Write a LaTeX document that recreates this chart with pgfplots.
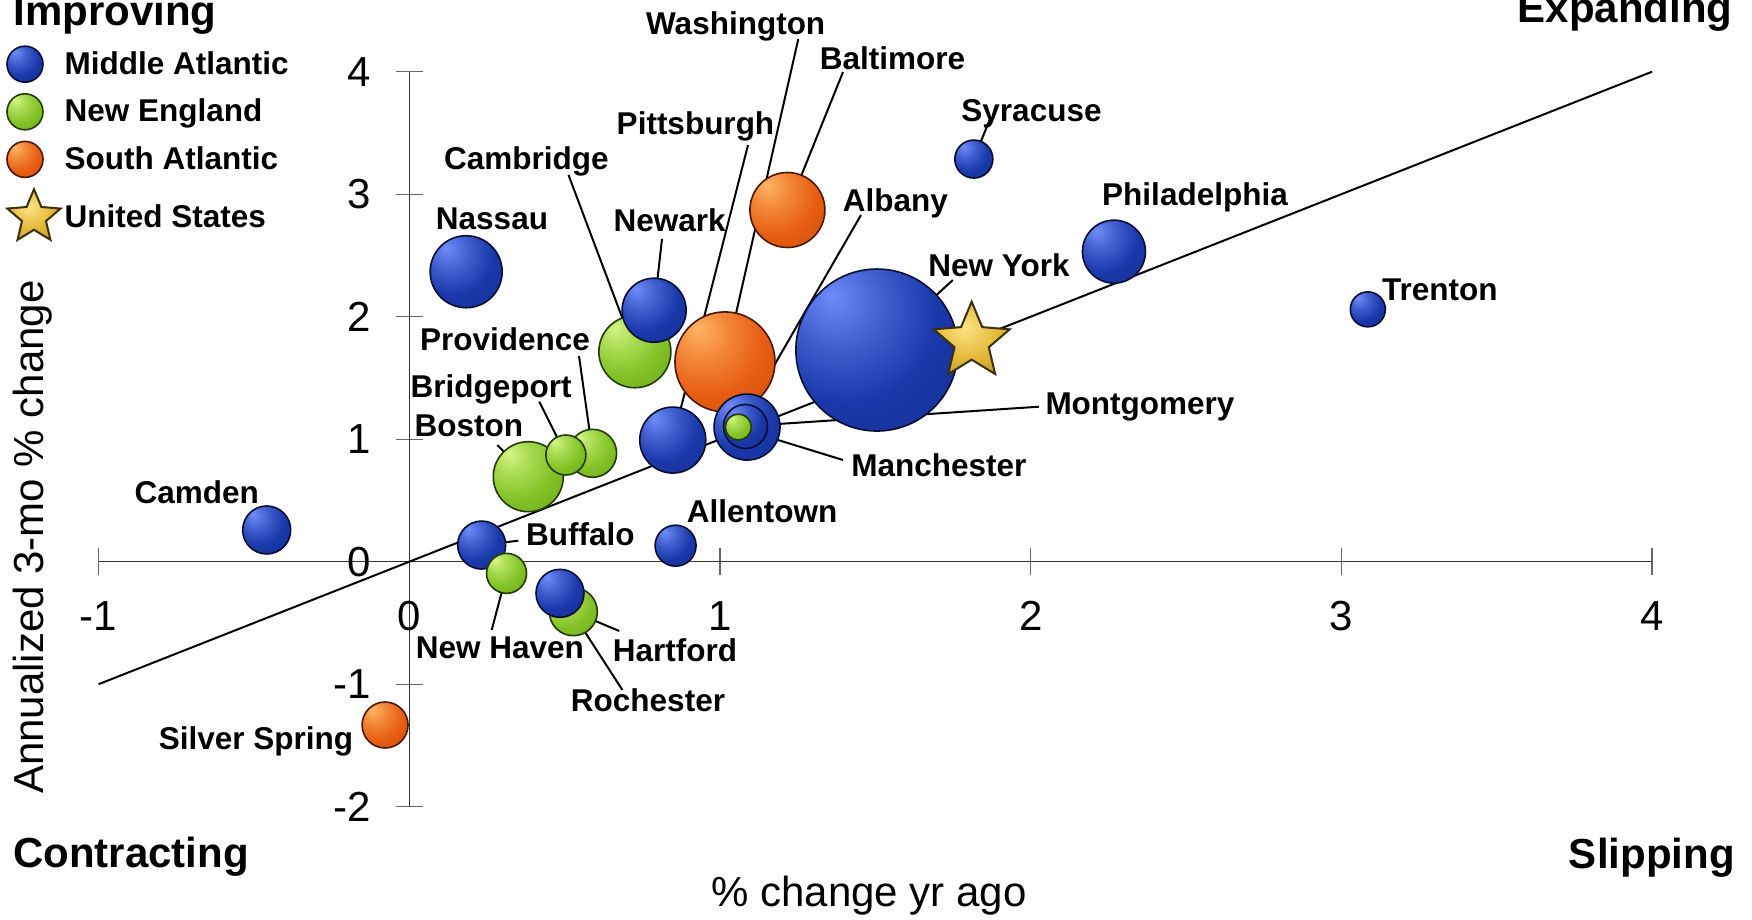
\documentclass[border=0pt]{standalone}
\usepackage{fontspec}
\setmainfont{Liberation Sans}
\usepackage{pgfplots}
\usepackage{pgfplotstable}
\pgfplotsset{compat=1.18}
\usetikzlibrary{plotmarks}

\definecolor{bHi}{RGB}{110,140,250}
\definecolor{bBody}{RGB}{26,56,170}
\definecolor{bDark}{RGB}{10,24,85}
\definecolor{gHi}{RGB}{210,245,130}
\definecolor{gBody}{RGB}{130,194,38}
\definecolor{gDark}{RGB}{58,100,10}
\definecolor{oHi}{RGB}{255,180,100}
\definecolor{oBody}{RGB}{232,94,18}
\definecolor{oDark}{RGB}{125,38,4}
\definecolor{sHi}{RGB}{252,228,130}
\definecolor{sBody}{RGB}{228,186,60}
\definecolor{sDark}{RGB}{160,120,25}
\definecolor{starEdge}{RGB}{60,48,12}

\pgfdeclareradialshading{bblue}{\pgfpoint{-14bp}{17bp}}{color(0bp)=(bHi); color(14bp)=(bHi!45!bBody); color(28bp)=(bBody); color(48bp)=(bBody!70!bDark); color(64bp)=(bDark); color(85bp)=(bDark)}
\pgfdeclareradialshading{bgreen}{\pgfpoint{-14bp}{17bp}}{color(0bp)=(gHi); color(14bp)=(gHi!45!gBody); color(28bp)=(gBody); color(48bp)=(gBody!70!gDark); color(64bp)=(gDark); color(85bp)=(gDark)}
\pgfdeclareradialshading{borange}{\pgfpoint{-14bp}{17bp}}{color(0bp)=(oHi); color(14bp)=(oHi!45!oBody); color(28bp)=(oBody); color(48bp)=(oBody!70!oDark); color(64bp)=(oDark); color(85bp)=(oDark)}
\pgfdeclareradialshading{sgold}{\pgfpoint{-5bp}{8bp}}{color(0bp)=(sHi); color(20bp)=(sBody); color(50bp)=(sDark); color(80bp)=(sDark)}

\pgfdeclareplotmark{bblue}{\pgfpathcircle{\pgfpointorigin}{\pgfplotmarksize}\pgfshadepath{bblue}{0}%
  \pgfsetstrokecolor{bDark!60!black}\pgfsetlinewidth{0.8pt}\pgfusepath{stroke}}
\pgfdeclareplotmark{bgreen}{\pgfpathcircle{\pgfpointorigin}{\pgfplotmarksize}\pgfshadepath{bgreen}{0}%
  \pgfsetstrokecolor{gDark!60!black}\pgfsetlinewidth{0.8pt}\pgfusepath{stroke}}
\pgfdeclareplotmark{borange}{\pgfpathcircle{\pgfpointorigin}{\pgfplotmarksize}\pgfshadepath{borange}{0}%
  \pgfsetstrokecolor{oDark!60!black}\pgfsetlinewidth{0.8pt}\pgfusepath{stroke}}

\pgfdeclareplotmark{gstar}{%
  \pgfpathmoveto{\pgfpointpolar{90}{\pgfplotmarksize}}%
  \pgfpathlineto{\pgfpointpolar{126}{0.45\pgfplotmarksize}}%
  \pgfpathlineto{\pgfpointpolar{162}{\pgfplotmarksize}}%
  \pgfpathlineto{\pgfpointpolar{198}{0.45\pgfplotmarksize}}%
  \pgfpathlineto{\pgfpointpolar{234}{\pgfplotmarksize}}%
  \pgfpathlineto{\pgfpointpolar{270}{0.45\pgfplotmarksize}}%
  \pgfpathlineto{\pgfpointpolar{306}{\pgfplotmarksize}}%
  \pgfpathlineto{\pgfpointpolar{342}{0.45\pgfplotmarksize}}%
  \pgfpathlineto{\pgfpointpolar{18}{\pgfplotmarksize}}%
  \pgfpathlineto{\pgfpointpolar{54}{0.45\pgfplotmarksize}}%
  \pgfpathclose
  \pgfshadepath{sgold}{0}%
  \pgfsetstrokecolor{starEdge}\pgfsetlinewidth{1pt}%
  \pgfusepath{stroke}%
}

% bubbles, largest first so that smaller ones lie on top
% x = % change yr ago, y = annualized 3-mo % change, r = bubble radius (pt)
% col: ma = Middle Atlantic, ne = New England, sa = South Atlantic
\pgfplotstableread{
x      y      r      col
1.505  1.728  40.5   ma
1.016  1.631  25.0   sa
1.217  2.871  18.75  sa
0.183  2.367  18.0   ma
0.726  1.714  18.0   ne
0.383  0.694  17.5   ne
0.848  0.993  16.5   ma
1.087  1.099  16.5   ma
0.788  2.053  16.0   ma
2.268  2.531  15.75  ma
-0.459 0.259  12.0   ma
0.233  0.136  12.0   ma
0.528  -0.408 12.0   ne
0.485  -0.258 12.0   ma
0.590  0.885  12.0   ne
-0.078 -1.333 11.5   sa
1.082  1.104  11.0   ma
0.857  0.131  10.25  ma
0.313  -0.095 10.0   ne
0.504  0.871  10.0   ne
1.817  3.287  9.5    ma
3.085  2.060  8.75   ma
1.059  1.099  6.5    ne
}\bubbles

\pgfplotsset{bubblelegend/.style={only marks,
  legend image code/.code={\draw[##1] plot coordinates {(0pt,0pt)};}}}

\tikzset{lab/.style={font=\fontsize{15.75}{18}\selectfont\bfseries, inner sep=0pt, anchor=base},
  quad/.style={font=\fontsize{21}{25}\selectfont\bfseries, inner sep=0pt},
  lead/.style={black, line width=1pt}}

\begin{document}
\begin{tikzpicture}
\begin{axis}[
  x=155.35pt, y=61.25pt,
  xmin=-1, xmax=4, ymin=-2, ymax=4,
  axis lines=middle,
  axis line style={-, black!80, line width=0.7pt},
  xtick={-1,0,1,2,3,4}, ytick={-2,-1,0,1,2,3,4},
  tick align=center, major tick length=13.5pt,
  tick style={black!60, line width=0.7pt},
  hide obscured x ticks=false, hide obscured y ticks=false,
  ticklabel style={font=\fontsize{21}{25}\selectfont, inner sep=0pt},
  /pgf/number format/assume math mode=true,
  xticklabel style={anchor=north, yshift=-13pt},
  yticklabel style={anchor=east, xshift=-12.5pt},
  xlabel={\% change yr ago},
  xlabel style={at={(axis description cs:0.4959,-0.13645)}, anchor=base, font=\fontsize{21}{25}\selectfont, inner sep=0pt},
  ylabel={Annualized 3-mo \% change},
  ylabel style={at={(axis description cs:-0.03547,0.36694)}, rotate=90, anchor=base, font=\fontsize{21}{25}\selectfont, inner sep=0pt},
  clip=false,
  legend style={at={(axis cs:-1.2987,4.218)}, anchor=north west, draw=none, fill=none,
    font=\fontsize{15.75}{18}\selectfont\bfseries, row sep=5pt, inner sep=0pt,
    nodes={inner sep=1pt},
    /tikz/every odd column/.append style={column sep=0.5pt}},
  legend cell align=left,
]
\coordinate (BL) at (axis cs:-1.31735,-2.91673);
\coordinate (TR) at (axis cs:4.32154,4.58531);

\addplot[forget plot, black, line width=1pt] coordinates {(-1,-1) (4,4)};

\addplot[forget plot, scatter, only marks, mark=bblue,
  point meta=explicit symbolic,
  scatter/classes={ma={mark=bblue}, ne={mark=bgreen}, sa={mark=borange}},
  visualization depends on={\thisrow{r} \as \pms},
  scatter/@pre marker code/.append style={/tikz/mark size=\pms},
] table[x=x, y=y, meta=col] {\bubbles};

\addplot[forget plot, only marks, mark=gstar, mark size=20pt] coordinates {(1.810,1.796)};

\addlegendimage{bubblelegend, mark=bblue, mark size=9pt}
\addlegendentry{Middle Atlantic}
\addlegendimage{bubblelegend, mark=bgreen, mark size=9pt}
\addlegendentry{New England}
\addlegendimage{bubblelegend, mark=borange, mark size=9pt}
\addlegendentry{South Atlantic}
\addlegendimage{bubblelegend, mark=gstar, mark size=14pt, mark options={xshift=4.5pt}}
\addlegendentry{United States}

% leader lines
\draw[lead] (axis cs:1.2520,4.2661) -- (axis cs:1.0161,1.6302);
\draw[lead] (axis cs:1.3959,3.9976) -- (axis cs:1.2169,2.8710);
\draw[lead] (axis cs:1.8677,3.6057) -- (axis cs:1.8169,3.2873);
\draw[lead] (axis cs:1.0901,3.4008) -- (axis cs:0.8478,0.9935);
\draw[lead] (axis cs:0.5124,3.1567) -- (axis cs:0.7264,1.7143);
\draw[lead] (axis cs:0.8133,2.6343) -- (axis cs:0.7876,2.0547);
\draw[lead] (axis cs:1.4538,2.8302) -- (axis cs:1.0698,1.1429);
\draw[lead] (axis cs:1.7493,2.2996) -- (axis cs:1.5114,1.7420);
\draw[lead] (axis cs:0.5462,1.6792) -- (axis cs:0.5903,0.8849);
\draw[lead] (axis cs:0.4184,1.3061) -- (axis cs:0.5043,0.8710);
\draw[lead] (axis cs:0.2832,0.9527) -- (axis cs:0.3830,0.6939);
\draw[lead] (axis cs:2.0267,1.2653) -- (axis cs:1.0901,1.1078);
\draw[lead] (axis cs:1.3959,0.8302) -- (axis cs:1.0579,1.0939);
\draw[lead] (axis cs:0.3508,0.1714) -- (axis cs:0.2330,0.1363);
\draw[lead] (axis cs:0.2652,-0.5576) -- (axis cs:0.3135,-0.0947);
\draw[lead] (axis cs:0.6759,-0.5657) -- (axis cs:0.5278,-0.4082);
\draw[lead] (axis cs:0.6859,-1.0473) -- (axis cs:0.4850,-0.2580);

% labels
\node[lab] at (axis cs:1.0505,4.2996) {Washington};
\node[lab] at (axis cs:1.5552,4.0220) {Baltimore};
\node[lab] at (axis cs:2.0026,3.5918) {Syracuse};
\node[lab] at (axis cs:0.9211,3.4833) {Pittsburgh};
\node[lab] at (axis cs:0.3772,3.1976) {Cambridge};
\node[lab] at (axis cs:2.5288,2.9118) {Philadelphia};
\node[lab] at (axis cs:1.5648,2.8571) {Albany};
\node[lab] at (axis cs:0.2662,2.7078) {Nassau};
\node[lab] at (axis cs:0.8378,2.6939) {Newark};
\node[lab] at (axis cs:1.8980,2.3265) {New York};
\node[lab, anchor=base west] at (axis cs:3.1297,2.1363) {Trenton};
\node[lab] at (axis cs:0.3080,1.7224) {Providence};
\node[lab] at (axis cs:0.2630,1.3445) {Bridgeport};
\node[lab] at (axis cs:2.3518,1.1976) {Montgomery};
\node[lab] at (axis cs:0.1921,1.0261) {Boston};
\node[lab] at (axis cs:1.7046,0.6939) {Manchester};
\node[lab] at (axis cs:1.1352,0.3216) {Allentown};
\node[lab] at (axis cs:0.5504,0.1306) {Buffalo};
\node[lab] at (axis cs:-0.6843,0.4767) {Camden};
\node[lab] at (axis cs:0.2919,-0.7886) {New Haven};
\node[lab] at (axis cs:0.8552,-0.8163) {Hartford};
\node[lab] at (axis cs:0.7683,-1.2245) {Rochester};
\node[lab] at (axis cs:-0.4934,-1.5290) {Silver Spring};

% quadrant labels
\node[quad, anchor=base west] at (axis cs:-1.2755,4.3812) {Improving};
\node[quad, anchor=base east] at (axis cs:4.2603,4.3976) {Expanding};
\node[quad, anchor=base west] at (axis cs:-1.2762,-2.4922) {Contracting};
\node[quad, anchor=base east] at (axis cs:4.2669,-2.5004) {Slipping};
\end{axis}
\pgfresetboundingbox
\path[use as bounding box] (BL) rectangle (TR);
\end{tikzpicture}
\end{document}
